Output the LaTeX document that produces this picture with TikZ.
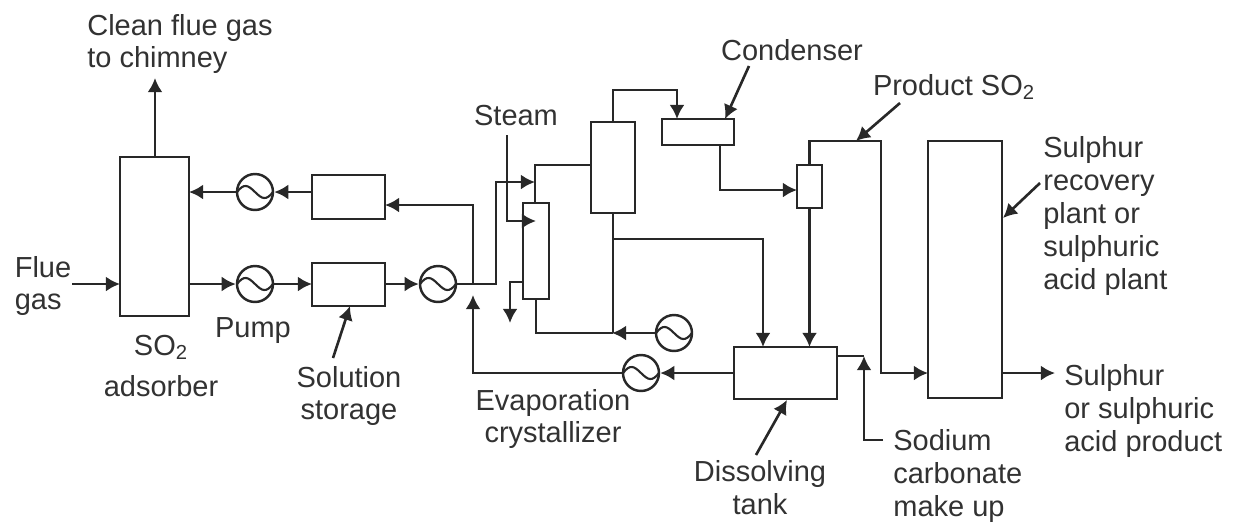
\documentclass[tikz,border=0pt]{standalone}
\usepackage{fontspec}
\setmainfont{Liberation Sans}
\usepackage{xcolor}
\usetikzlibrary{arrows.meta}
\definecolor{linegray}{RGB}{40, 40, 40}
\definecolor{textgray}{RGB}{50, 50, 50}

\begin{document}
\begin{tikzpicture}[
        x=0.02cm, y=-0.02cm,
        unit/.style={rectangle, draw=linegray, line width=1.6pt, inner sep=0pt, outer sep=0pt, anchor=north west},
        pump/.style={circle, draw=linegray, line width=1.4pt, minimum size=0.72cm, inner sep=0pt,
            path picture={\draw[line width=1.2pt, color=linegray] ([xshift=-0.36cm]path picture bounding box.center) .. controls +(7,-9) and +(-7,-7) .. (path picture bounding box.center) .. controls +(7,7) and +(-7,9) .. ([xshift=0.36cm]path picture bounding box.center);}},
        pipe/.style={line width=1.5pt, color=linegray},
        arrow/.style={-{Latex[length=8pt, width=8.5pt]}, line width=1.5pt, color=linegray},
        tag/.style={font=\fontsize{16.5}{18.7}\selectfont, text=textgray, align=center, inner sep=0pt}
    ]
        \useasboundingbox (0,0) rectangle (1238,522);

        % Plant units
        \node[unit, minimum width=1.38cm, minimum height=3.18cm] (adsorber) at (120,157) {};
        \node[unit, minimum width=1.46cm, minimum height=0.88cm] (storetop) at (312,175) {};
        \node[unit, minimum width=1.46cm, minimum height=0.86cm] (storelow) at (312,263) {};
        \node[unit, minimum width=0.52cm, minimum height=1.92cm] (evap) at (523,203) {};
        \node[unit, minimum width=0.88cm, minimum height=1.82cm] (column) at (591,122) {};
        \node[unit, minimum width=1.44cm, minimum height=0.52cm] (condenser) at (662,119) {};
        \node[unit, minimum width=0.50cm, minimum height=0.86cm] (stripper) at (797,165) {};
        \node[unit, minimum width=2.06cm, minimum height=1.04cm] (tank) at (734,347) {};
        \node[unit, minimum width=1.48cm, minimum height=5.14cm] (plant) at (928,141) {};

        % Pumps
        \node[pump] (pumptop) at (255,192) {};
        \node[pump] (pumplow) at (255,284) {};
        \node[pump] (pumpstore) at (438,284) {};
        \node[pump] (pumpevap) at (674,333) {};
        \node[pump] (pumptank) at (641,373) {};

        % Labels
        \node[tag, align=left] (cleangas) at (180,44) {Clean flue gas\\to chimney};
        \node[tag, align=left] (fluegas) at (43,286) {Flue\\gas};
        \node[tag] (so2) at (161,366) {SO\textsubscript{2}\\[5pt]adsorber};
        \node[tag] (pumplabel) at (253,331) {Pump};
        \node[tag] (storage) at (349,396) {Solution\\storage};
        \node[tag] (steam) at (516,116) {Steam};
        \node[tag] (crystallizer) at (553,419) {Evaporation\\crystallizer};
        \node[tag] (condlabel) at (792,50) {Condenser};
        \node[tag] (product) at (954,87) {Product SO\textsubscript{2}};
        \node[tag, align=left, anchor=west] (recovery) at (1043,216) {Sulphur\\recovery\\plant or\\sulphuric\\acid plant};
        \node[tag, align=left, anchor=west] (sulphur) at (1064,411) {Sulphur\\or sulphuric\\acid product};
        \node[tag, align=left, anchor=west] (sodium) at (893,476) {Sodium\\carbonate\\make up};
        \node[tag] (dissolving) at (760,488) {Dissolving\\tank};

        % Junction points
        \coordinate (sodiumend) at (883,440);
        \coordinate (sodiumbend) at (864,440);
        \coordinate (returncross) at (473,284);

        % Gas side
        \draw[arrow] (adsorber.north -| 155,0) -- (155,78);
        \draw[arrow] (72,284) -- (adsorber.west |- 0,284);

        % Absorbent loop
        \draw[arrow] (adsorber.east |- pumplow) -- (pumplow.west);
        \draw[arrow] (pumplow.east) -- (storelow.west |- pumplow);
        \draw[arrow] (storelow.east |- pumpstore) -- (pumpstore.west);
        \draw[arrow] (storetop.west |- pumptop) -- (pumptop.east);
        \draw[arrow] (pumptop.west) -- (adsorber.east |- pumptop);

        % Feed to evaporator and column
        \draw[arrow] (pumpstore.east) -- (496,284) -- (496,182) -- (535,182);
        \draw[pipe] (535,203) -- (535,165) -- (column.west |- 0,165);
        \draw[arrow] (507,135) -- (507,221) -- (536,221);
        \draw[arrow] (evap.west |- 0,282) -- (510,282) -- (510,323);
        \draw[pipe] (536,299) -- (536,333) -- (613,333);
        \draw[arrow] (pumpevap.west) -- (612,333);
        \draw[pipe] (column.south -| 613,0) -- (613,333);
        \draw[arrow] (613,239) -- (763,239) -- (763,347);

        % Overheads
        \draw[arrow] (column.north -| 613,0) -- (613,90) -- (677,90) -- (677,119);
        \draw[arrow] (720,145) -- (720,190) -- (stripper.west |- 0,190);
        \draw[arrow] (stripper.south) -- (tank.north -| stripper.south);
        \draw[arrow] (stripper.north) -- (stripper.north |- 0,141) -- (881,141) -- (881,373) -- (plant.west |- 0,373);
        \draw[arrow] (plant.east |- 0,373) -- (1055,373);

        % Tank return
        \draw[arrow] (tank.west |- pumptank) -- (pumptank.east);
        \draw[arrow] (pumptank.west) -- (473,373) -- (473,295);
        \draw[arrow] (returncross) -- (473,205) -- (storetop.east |- 0,205);
        \draw[pipe] (tank.east |- 0,356) -- (864,356);
        \draw[arrow] (sodiumend) -- (sodiumbend) -- (864,356);

        % Leaders
        \draw[arrow] (749,66) -- (725,119);
        \draw[arrow] (900,103) -- (856,141);
        \draw[arrow] (1040,183) -- (1003,218);
        \draw[arrow] (333,358) -- (350,306);
        \draw[arrow] (756,455) -- (787,400);
    \end{tikzpicture}
\end{document}
